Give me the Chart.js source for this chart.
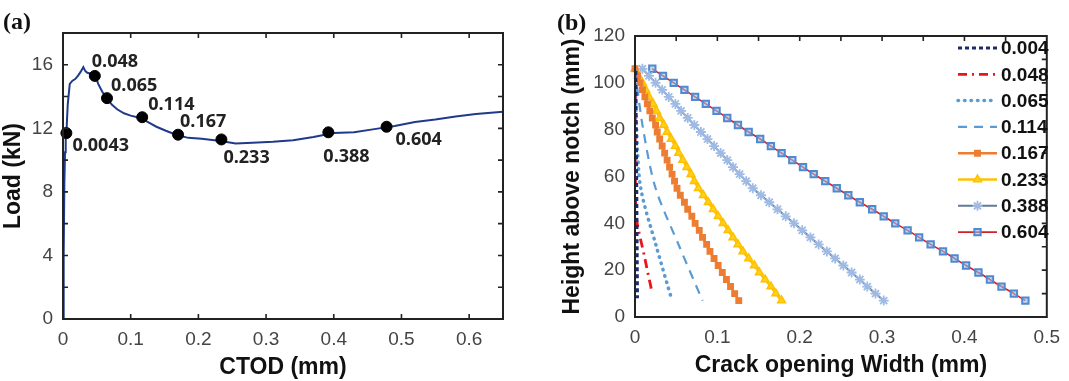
<!DOCTYPE html>
<html>
<head>
<meta charset="utf-8">
<script src="https://cdn.jsdelivr.net/npm/chart.js@4.4.1/dist/chart.umd.min.js"></script>
<style>
  body { margin: 0; background: #fff; width: 1069px; height: 381px; overflow: hidden; position: relative; }
  .panel { position: absolute; top: 0; height: 381px; }
  #boxA { left: 0; width: 520px; }
  #boxB { left: 530px; width: 539px; }
  .tag { position: absolute; font-family: "Liberation Serif", "Times New Roman", serif; font-weight: bold; font-size: 24px; color: #111; line-height: 1; }
</style>
</head>
<body>
<div class="panel" id="boxA"><canvas id="chartA"></canvas></div>
<div class="panel" id="boxB"><canvas id="chartB"></canvas></div>
<div class="tag" style="left:3px; top:9px">(a)</div>
<div class="tag" style="left:557px; top:10px">(b)</div>
<script>
// ---- panel (a) : load - CTOD curve ----
const ctodA = [0, 0.001, 0.002, 0.003, 0.004, 0.005, 0.007, 0.010, 0.014, 0.018, 0.022,
  0.026, 0.030, 0.033, 0.036, 0.040, 0.044, 0.048, 0.052, 0.058, 0.065,
  0.072, 0.080, 0.090, 0.100, 0.114, 0.125, 0.138, 0.152, 0.167, 0.185,
  0.205, 0.233, 0.255, 0.280, 0.310, 0.340, 0.370, 0.400, 0.430, 0.460,
  0.490, 0.520, 0.550, 0.580, 0.610, 0.650];
const loadA = [0, 4.0, 8.5, 10.5, 11.3, 11.7, 13.5, 14.8, 15.0, 15.1, 15.3,
  15.55, 15.85, 15.6, 15.5, 15.45, 15.4, 15.3, 14.8, 14.3, 13.9,
  13.5, 13.2, 12.95, 12.8, 12.65, 12.4, 12.1, 11.85, 11.6, 11.4,
  11.35, 11.2, 11.05, 11.1, 11.15, 11.25, 11.45, 11.7, 11.75, 11.95,
  12.15, 12.4, 12.55, 12.75, 12.9, 13.05];

// black dots picked on the curve and their labels
const dotCtod = [0.005, 0.047, 0.065, 0.117, 0.170, 0.234, 0.392, 0.478];
const dotLoad = [11.7, 15.3, 13.9, 12.7, 11.6, 11.3, 11.75, 12.1];
const dotLabels = ["0.0043", "0.048", "0.065", "0.114", "0.167", "0.233", "0.388", "0.604"];
const dotLabelShift = [[6, 13], [-3, -14], [4, -12], [6, -12], [2, -13], [2, 18], [-5, 25], [9, 13]]; // px from dot

const xTicksA = [0, 0.1, 0.2, 0.3, 0.4, 0.5, 0.6];
const yTicksA = [0, 4, 8, 12, 16];

// ---- panel (b) : crack opening profiles ----
const seriesNames = ["0.004", "0.048", "0.065", "0.114", "0.167", "0.233", "0.388", "0.604"];

// dashed / dotted profiles (few points are enough)
const h004 = [105, 60, 8];
const w004 = [0.001, 0.002, 0.003];
const h048 = [105, 45, 25, 10];
const w048 = [0, 0.001, 0.012, 0.021];
const h065 = [105, 80, 55, 30, 7];
const w065 = [0, 0.002, 0.007, 0.026, 0.045];
const h114 = [105, 80, 55, 30, 7];
const w114 = [0, 0.010, 0.025, 0.054, 0.082];

// profiles with markers, one value per node height
const hNodes = [106, 103, 100, 97, 94, 91, 88, 85, 82, 79, 76, 73, 70, 67, 64, 61, 58,
  55, 52, 49, 46, 43, 40, 37, 34, 31, 28, 25, 22, 19, 16, 13, 10, 7];
const w167 = [0.000, 0.003, 0.006, 0.009, 0.012, 0.015, 0.018, 0.021, 0.025, 0.027, 0.030, 0.033,
  0.036, 0.039, 0.042, 0.045, 0.048, 0.051, 0.055, 0.060, 0.064, 0.069, 0.073, 0.078,
  0.082, 0.087, 0.091, 0.096, 0.101, 0.106, 0.111, 0.116, 0.121, 0.126];
const w233 = [0.000, 0.004, 0.009, 0.013, 0.017, 0.022, 0.026, 0.030, 0.035, 0.039, 0.044, 0.049,
  0.053, 0.058, 0.063, 0.068, 0.072, 0.077, 0.083, 0.089, 0.095, 0.101, 0.107, 0.113,
  0.119, 0.125, 0.131, 0.138, 0.145, 0.151, 0.158, 0.165, 0.171, 0.178];
const w388 = [0.009, 0.017, 0.025, 0.033, 0.041, 0.049, 0.056, 0.064, 0.072, 0.080, 0.088, 0.096,
  0.104, 0.112, 0.119, 0.127, 0.135, 0.143, 0.153, 0.163, 0.173, 0.183, 0.193, 0.203,
  0.213, 0.223, 0.233, 0.243, 0.253, 0.263, 0.273, 0.282, 0.292, 0.302];
const w604 = [0.021, 0.034, 0.047, 0.060, 0.073, 0.086, 0.099, 0.112, 0.125, 0.138, 0.152, 0.165,
  0.178, 0.191, 0.204, 0.217, 0.231, 0.245, 0.259, 0.273, 0.288, 0.302, 0.316, 0.331,
  0.345, 0.359, 0.374, 0.388, 0.402, 0.417, 0.431, 0.445, 0.460, 0.474];

const xTicksB = [0, 0.1, 0.2, 0.3, 0.4, 0.5];
const yTicksB = [0, 20, 40, 60, 80, 100, 120];

// ------------------------------------------------------------------
const SANS = '"Liberation Sans", Arial, sans-serif';
const tickFont = { family: SANS, size: 19 };
const titleFont = { family: SANS, size: 23, weight: "bold" };

function toPts(xs, ys) {
  return xs.map((x, i) => ({ x: x, y: ys[i] }));
}

// box around the plot plus the small inward ticks
const framePlugin = {
  id: "frame",
  afterDraw(chart, args, opts) {
    const { ctx, chartArea: a, scales } = chart;
    ctx.save();
    ctx.strokeStyle = "#222";
    ctx.lineWidth = 1.6;
    ctx.beginPath();
    const len = 5;
    for (let v = opts.xMin; v <= opts.xMax + 1e-9; v += opts.xStep) {
      const px = scales.x.getPixelForValue(v);
      if (px <= a.left + 1 || px >= a.right - 1) continue;
      if (opts.bottom) { ctx.moveTo(px, a.bottom); ctx.lineTo(px, a.bottom - len); }
      if (opts.top) { ctx.moveTo(px, a.top); ctx.lineTo(px, a.top + len); }
    }
    for (let v = opts.yMin; v <= opts.yMax + 1e-9; v += opts.yStep) {
      const py = scales.y.getPixelForValue(v);
      if (py <= a.top + 1 || py >= a.bottom - 1) continue;
      if (opts.left) { ctx.moveTo(a.left, py); ctx.lineTo(a.left + len, py); }
      if (opts.right) { ctx.moveTo(a.right, py); ctx.lineTo(a.right - len, py); }
    }
    ctx.stroke();
    ctx.lineWidth = 2;
    ctx.strokeRect(a.left, a.top, a.right - a.left, a.bottom - a.top);
    ctx.restore();
  }
};

// text next to each black dot in panel (a)
const dotLabelPlugin = {
  id: "dotLabels",
  afterDatasetsDraw(chart) {
    const { ctx, scales } = chart;
    ctx.save();
    ctx.font = 'bold 18px "Open Sans", "DejaVu Sans", sans-serif';
    ctx.fillStyle = "#222";
    ctx.textAlign = "left";
    ctx.textBaseline = "middle";
    dotLabels.forEach((t, i) => {
      const px = scales.x.getPixelForValue(dotCtod[i]);
      const py = scales.y.getPixelForValue(dotLoad[i]);
      ctx.fillText(t, px + dotLabelShift[i][0], py + dotLabelShift[i][1]);
    });
    ctx.restore();
  }
};

// legend inside the top right corner of panel (b)
const legendPlugin = {
  id: "legendBox",
  afterDraw(chart) {
    const { ctx } = chart;
    ctx.save();
    chart.data.datasets.forEach((ds, i) => {
      const y = 48 + i * 26.3;
      const x0 = 428, x1 = 467;
      ctx.strokeStyle = ds.borderColor;
      ctx.lineWidth = ds.borderWidth;
      ctx.lineCap = ds.borderCapStyle || "butt";
      ctx.setLineDash(ds.borderDash || []);
      ctx.beginPath();
      ctx.moveTo(x0, y);
      ctx.lineTo(x1, y);
      ctx.stroke();
      ctx.setLineDash([]);
      if (ds.pointRadius > 0) {
        ctx.fillStyle = ds.pointBackgroundColor;
        ctx.strokeStyle = ds.pointBorderColor;
        ctx.lineWidth = ds.pointBorderWidth || 1;
        Chart.helpers.drawPoint(ctx, { pointStyle: ds.pointStyle, radius: ds.pointRadius, rotation: 0, borderWidth: ctx.lineWidth }, (x0 + x1) / 2, y);
      }
      ctx.fillStyle = "#111";
      ctx.font = "bold 19px " + SANS;
      ctx.textAlign = "left";
      ctx.textBaseline = "middle";
      ctx.fillText(ds.label, x1 + 4, y + 1);
    });
    ctx.restore();
  }
};

function fixedBox(w, h) {
  return (scale) => {
    if (w !== null) scale.width = w;
    if (h !== null) scale.height = h;
  };
}

function tickFmt(v) {
  return String(Math.round(v * 10) / 10);
}

// ---- chart (a) ----
new Chart(document.getElementById("chartA"), {
  type: "scatter",
  data: {
    datasets: [
      {
        label: "dots",
        data: toPts(dotCtod, dotLoad),
        showLine: false,
        pointRadius: 5.5,
        pointBackgroundColor: "#000",
        pointBorderColor: "#000",
        clip: false,
        order: 0
      },
      {
        label: "Load",
        data: toPts(ctodA, loadA),
        showLine: true,
        borderColor: "#1f3a8a",
        borderWidth: 2,
        pointRadius: 0,
        tension: 0,
        order: 1
      }
    ]
  },
  options: {
    responsive: true,
    maintainAspectRatio: false,
    animation: false,
    layout: { padding: { top: 33, right: 17, left: 0, bottom: 0 } },
    plugins: {
      legend: { display: false },
      tooltip: { enabled: false },
      frame: { xMin: 0, xMax: 0.65, xStep: 0.1, yMin: 0, yMax: 18, yStep: 2, left: true, right: true, top: true, bottom: true }
    },
    scales: {
      x: {
        type: "linear",
        min: 0,
        max: 0.65,
        afterFit: fixedBox(null, 62),
        afterBuildTicks: (s) => { s.ticks = xTicksA.map(v => ({ value: v })); },
        grid: { display: false, drawTicks: false },
        border: { display: false },
        ticks: { font: tickFont, color: "#444", padding: 9, maxRotation: 0, callback: tickFmt },
        title: { display: true, text: "CTOD (mm)", font: titleFont, color: "#111", padding: { top: 0, bottom: 0 } }
      },
      y: {
        min: 0,
        max: 18,
        afterFit: fixedBox(63, null),
        afterBuildTicks: (s) => { s.ticks = yTicksA.map(v => ({ value: v })); },
        grid: { display: false, drawTicks: false },
        border: { display: false },
        ticks: { font: tickFont, color: "#444", padding: 10 },
        title: { display: true, text: "Load (kN)", font: titleFont, color: "#111", padding: { top: 0, bottom: 0 } }
      }
    }
  },
  plugins: [framePlugin, dotLabelPlugin]
});

// ---- chart (b) ----
const lineSet = (i, xs, ys, color, dash, width) => ({
  label: seriesNames[i],
  data: toPts(xs, ys),
  showLine: true,
  borderColor: color,
  borderWidth: width,
  borderDash: dash,
  pointRadius: 0,
  tension: 0.3
});
const markSet = (i, xs, color, width, style, radius, ptFill, ptEdge, edgeW) => ({
  label: seriesNames[i],
  data: toPts(xs, hNodes),
  showLine: true,
  borderColor: color,
  borderWidth: width,
  pointStyle: style,
  pointRadius: radius,
  pointBackgroundColor: ptFill,
  pointBorderColor: ptEdge,
  pointBorderWidth: edgeW,
  tension: 0.2,
  clip: false
});

new Chart(document.getElementById("chartB"), {
  type: "scatter",
  data: {
    datasets: [
      lineSet(0, w004, h004, "#1d2a6b", [4, 3], 3),
      lineSet(1, w048, h048, "#e8151d", [9, 5, 2, 5], 2.8),
      Object.assign(lineSet(2, w065, h065, "#5b9bd5", [0.5, 6], 3.5), { borderCapStyle: "round" }),
      lineSet(3, w114, h114, "#5b9bd5", [9, 7], 2.2),
      markSet(4, w167, "#ed7d31", 2.5, "rect", 3.8, "#ed7d31", "#ed7d31", 1.5),
      markSet(5, w233, "#ffc000", 2.5, "triangle", 4.5, "#ffd21a", "#ffc000", 1.5),
      markSet(6, w388, "#5f7b98", 2, "star", 5, "#9fbbe5", "#9fbbe5", 1.8),
      markSet(7, w604, "#d3212b", 1.6, "rect", 4.5, "rgba(150,188,232,0.6)", "#4f8ad0", 2)
    ]
  },
  options: {
    responsive: true,
    maintainAspectRatio: false,
    animation: false,
    layout: { padding: { top: 36, right: 8, left: 0, bottom: 0 } },
    plugins: {
      legend: { display: false },
      tooltip: { enabled: false },
      frame: { xMin: 0, xMax: 0.5, xStep: 0.05, yMin: 0, yMax: 120, yStep: 10, left: false, right: true, top: true, bottom: false }
    },
    scales: {
      x: {
        type: "linear",
        min: 0,
        max: 0.5,
        afterFit: fixedBox(null, 64),
        afterBuildTicks: (s) => { s.ticks = xTicksB.map(v => ({ value: v })); },
        grid: { display: false, drawTicks: false },
        border: { display: false },
        ticks: { font: tickFont, color: "#444", padding: 9, maxRotation: 0, callback: tickFmt },
        title: { display: true, text: "Crack opening Width (mm)", font: titleFont, color: "#111", padding: { top: 0, bottom: 2 } }
      },
      y: {
        min: 0,
        max: 120,
        afterFit: fixedBox(105, null),
        afterBuildTicks: (s) => { s.ticks = yTicksB.map(v => ({ value: v })); },
        grid: { display: false, drawTicks: false },
        border: { display: false },
        ticks: { font: tickFont, color: "#444", padding: 10 },
        title: { display: true, text: "Height above notch (mm)", font: titleFont, color: "#111", padding: { top: 29, bottom: 0 } }
      }
    }
  },
  plugins: [framePlugin, legendPlugin]
});
</script>
</body>
</html>
